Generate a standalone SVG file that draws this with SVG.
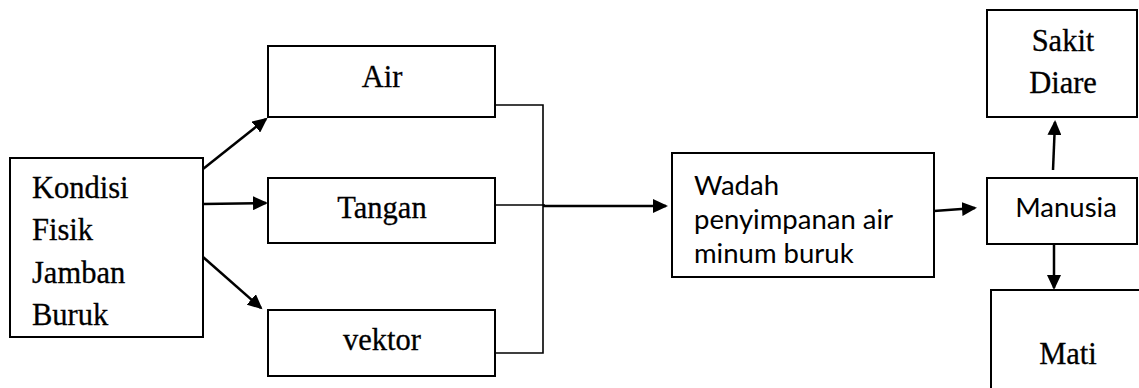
<svg xmlns="http://www.w3.org/2000/svg" width="1139" height="388" viewBox="0 0 1139 388">
<style>
.box{fill:#fff;stroke:#000;stroke-width:2}
.tr{font-family:"Liberation Serif","Times New Roman",serif;font-size:30.5px;fill:#000;stroke:#000;stroke-width:0.3}
.cb{font-family:Lato,"Open Sans",sans-serif;font-size:27.5px;fill:#000}
.arr{stroke:#000;stroke-width:2.5;fill:none;marker-end:url(#ah)}
.ln{stroke:#000;stroke-width:1.6;fill:none}
</style>
<defs>
<marker id="ah" markerUnits="userSpaceOnUse" markerWidth="16" markerHeight="14" refX="13" refY="7" orient="auto">
<path d="M0,0 L15,7 L0,14 z" fill="#000"/>
</marker>
</defs>
<rect width="1139" height="388" fill="#fff"/>
<g id="kondisi">
<rect class="box" x="10" y="158" width="193" height="179"/>
<text class="tr" x="32" y="198">Kondisi</text>
<text class="tr" x="32" y="240">Fisik</text>
<text class="tr" x="32" y="283">Jamban</text>
<text class="tr" x="32" y="325">Buruk</text>
</g>
<g id="air">
<rect class="box" x="268" y="46" width="227" height="71"/>
<text class="tr" x="382" y="87" text-anchor="middle">Air</text>
</g>
<g id="tangan">
<rect class="box" x="268" y="178" width="227" height="65"/>
<text class="tr" x="382" y="218" text-anchor="middle">Tangan</text>
</g>
<g id="vektor">
<rect class="box" x="268" y="310" width="227" height="66"/>
<text class="tr" x="382" y="350" text-anchor="middle">vektor</text>
</g>
<g id="wadah">
<rect class="box" x="672" y="153" width="262" height="124"/>
<text class="cb" x="694" y="195">Wadah</text>
<text class="cb" x="694" y="229">penyimpanan air</text>
<text class="cb" x="694" y="263">minum buruk</text>
</g>
<g id="manusia">
<rect class="box" x="987" y="178" width="150" height="66"/>
<text class="cb" x="1066" y="217" text-anchor="middle">Manusia</text>
</g>
<g id="sakit">
<rect class="box" x="987" y="10" width="150" height="107"/>
<text class="tr" x="1063" y="51" text-anchor="middle">Sakit</text>
<text class="tr" x="1063" y="93" text-anchor="middle">Diare</text>
</g>
<g id="mati">
<path class="box" d="M991,392 V290 H1141"/>
<text class="tr" x="1068" y="364" text-anchor="middle">Mati</text>
</g>
<g id="connectors">
<line class="arr" x1="203" y1="169" x2="266" y2="119"/>
<line class="arr" x1="203" y1="204" x2="266" y2="203"/>
<line class="arr" x1="203" y1="257" x2="261" y2="308"/>
<path class="ln" d="M495,105 H543 V353 H495"/>
<line class="ln" x1="495" y1="205" x2="545" y2="205"/>
<line class="arr" x1="543" y1="206" x2="666" y2="206"/>
<line class="arr" x1="934" y1="211" x2="975" y2="208"/>
<line class="arr" x1="1053" y1="170" x2="1055" y2="122"/>
<line class="arr" x1="1054" y1="244" x2="1054" y2="288"/>
</g>
</svg>
